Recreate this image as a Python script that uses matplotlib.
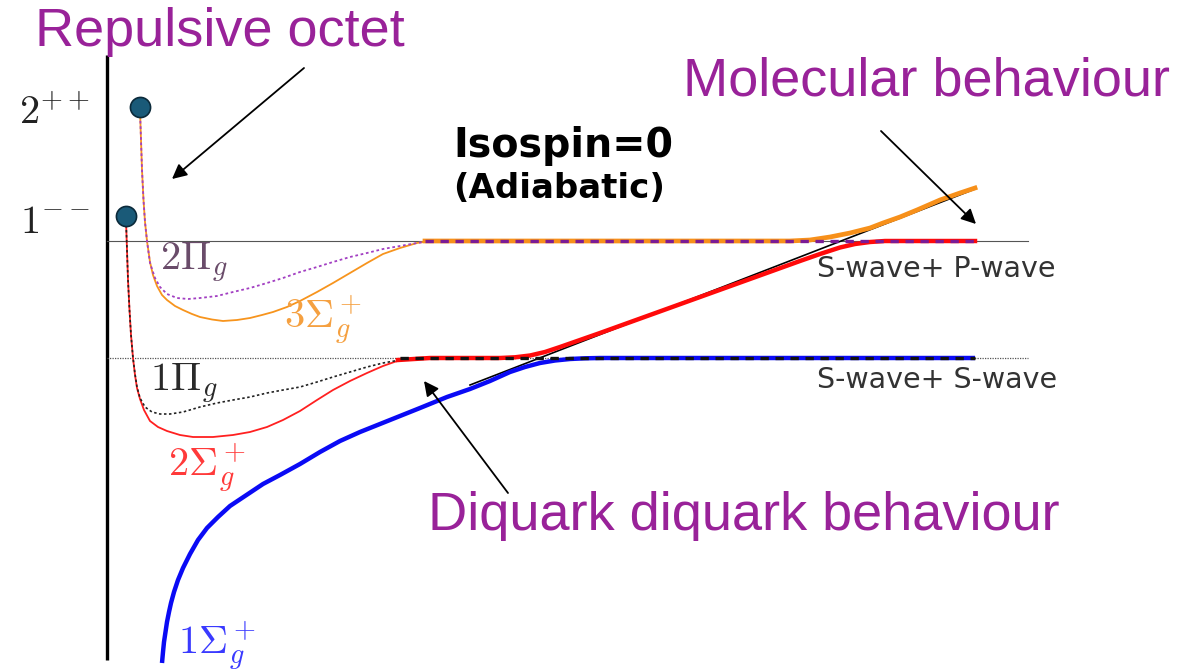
import matplotlib.pyplot as plt

plt.rcParams['mathtext.fontset'] = 'cm'

# schematic coordinates: r to the right, energy downwards (screen-like units)
R_MAX = 1191
E_MAX = 671

# thresholds
thr_upper = 241   # S-wave + P-wave
thr_lower = 358   # S-wave + S-wave
thr_r = [107, 1028]

# quark-model states at short distance
state_r = [140, 126]
state_e = [107, 216]
state_names = [r'$2^{++}$', r'$1^{--}$']

# 2Pi_g (dotted, short distance part)
pi2_r = [140, 141, 142, 143.5, 145, 147, 150, 155, 160, 167, 177, 188, 200, 217, 233, 250, 267, 283,
         300, 317, 333, 350, 367, 383, 400, 417, 430]
pi2_e = [110, 140, 170, 200, 222, 241, 263, 278, 287, 294, 298, 299, 298, 296, 292, 288, 283, 278,
         272, 267, 262, 257, 253, 249, 246, 243, 241]

# 3Sigma_g+ (short distance part)
sig3_r = [140, 141, 142, 143.5, 145, 147, 150, 153, 157, 162, 167, 175, 183, 192, 200, 212, 223, 237,
          250, 262, 273, 287, 300, 317, 333, 350, 367, 383, 400, 417, 430]
sig3_e = [110, 140, 170, 200, 222, 241, 262, 275, 286, 295, 300, 306, 310, 314, 317, 319.5, 321, 320,
          318, 315, 312, 307, 301, 292, 283, 273, 263, 254, 248, 243, 241]

# 3Sigma_g+ (long distance part)
sig3_far_r = [425, 500, 600, 700, 790, 810, 830, 850, 870, 883, 900, 917, 940, 960, 975]
sig3_far_e = [241, 241, 241, 241, 241, 240, 237, 233, 228, 223, 217, 210, 200, 193, 188]

# 1Pi_g (dotted)
pi1_r = [126, 127, 128, 129.5, 131, 133, 135, 137, 140, 145, 152, 160, 170, 183, 200, 217, 233, 250,
         267, 283, 300, 317, 333, 350, 367, 383, 400, 417]
pi1_e = [220, 250, 280, 310, 335, 358, 374, 387, 398, 407, 412, 414, 414, 412, 407, 403, 400, 397,
         393, 390, 387, 382, 377, 372, 367, 363, 360, 358]

# 2Sigma_g+ (short distance part)
sig2_r = [126, 127, 128, 129.5, 131, 133, 135, 137, 140, 144, 150, 158, 167, 180, 193, 213, 233, 250,
          267, 283, 300, 317, 333, 350, 367, 383, 400]
sig2_e = [220, 250, 280, 310, 335, 358, 375, 388, 399, 410, 421, 427, 431, 435, 437, 437, 435, 432,
          427, 420, 411, 400, 390, 381, 373, 366, 360]

# 2Sigma_g+ (long distance part)
sig2_far_r = [398, 430, 470, 500, 515, 530, 545, 560, 580, 600, 650, 700, 750, 800, 820, 840, 855,
              870, 885, 900, 930, 975]
sig2_far_e = [360, 358, 358, 358, 357.3, 355.5, 352, 347, 340, 333, 315, 297, 279, 261, 254, 247.5, 244,
              242, 241, 241, 241, 241]

# 1Sigma_g+
sig1_r = [162, 163, 164, 165.5, 167, 169, 171, 174, 178, 183, 190, 198, 207, 218, 230, 245, 263, 280,
          300, 320, 340, 360, 380, 400, 420, 447, 470, 490, 510, 525, 540, 555, 570, 585, 600, 650,
          750, 850, 975]
sig1_e = [663, 652, 642, 632, 622, 612, 603, 592, 580, 568, 554, 540, 528, 517, 506, 496, 484, 475,
          464, 452, 441, 432, 424, 416, 408, 397, 389, 381, 372, 367, 363, 360.5, 359, 358.3, 358, 358,
          358, 358, 358]

# diabatic diquark-diquark line
dq_r = [470, 975]
dq_e = [385, 189]

# long distance Pi_g plateaus
pi2_far_r = [425, 975]
pi1_far_r = [400, 975]

fig = plt.figure(figsize=(11.91, 6.71), dpi=100)
ax = fig.add_axes([0, 0, 1, 1])
ax.set_xlim(0, R_MAX)
ax.set_ylim(E_MAX, 0)
ax.axis('off')

# energy axis
ax.plot([107, 107], [55, 660], color='black', lw=2.4, solid_capstyle='butt')

# thresholds
ax.plot(thr_r, [thr_upper, thr_upper], color='#555555', lw=0.8)
ax.plot(thr_r, [thr_lower, thr_lower], color='#555555', lw=0.9, ls=(0, (1, 1)))

# short distance curves
ax.plot(sig3_r, sig3_e, color='#f7941d', lw=1.3, zorder=3)
ax.plot(pi2_r, pi2_e, color='#a23fc2', lw=1.3, ls=(0, (1.5, 1.5)), zorder=4)
ax.plot(sig2_r, sig2_e, color='#ff2020', lw=1.3, zorder=3)
ax.plot(pi1_r, pi1_e, color='#222222', lw=1.2, ls=(0, (1.5, 1.5)), zorder=4)

# long distance curves
ax.plot(dq_r, dq_e, color='black', lw=1.2, zorder=3)
ax.plot(sig1_r, sig1_e, color='#0a0af5', lw=3.2, zorder=4, solid_capstyle='butt')
ax.plot(sig2_far_r, sig2_far_e, color='#ff0a0a', lw=3.2, zorder=4)
ax.plot(sig3_far_r, sig3_far_e, color='#f7901a', lw=3.4, zorder=5)
ax.plot(pi2_far_r, [thr_upper, thr_upper], color='#7a1b96', lw=2.4, ls=(0, (2.5, 2)), zorder=6)
ax.plot(pi1_far_r, [thr_lower, thr_lower], color='#111111', lw=2.4, ls=(0, (2.5, 2)), zorder=6)

# states
ax.scatter(state_r, state_e, s=210, color='#1a5a78', edgecolor='#0b2a3a', linewidth=1.2, zorder=7)
for name, e in zip(state_names, state_e):
    ax.text(90, e + 17, name, fontsize=29, color='#222222', ha='right', va='baseline')

# curve labels
ax.text(160, 270, r'$2\Pi_g$', fontsize=29, color='#6a4c6a', va='baseline')
ax.text(284, 328, r'$3\Sigma_g^+$', fontsize=29, color='#f5a040', va='baseline')
ax.text(150, 391, r'$1\Pi_g$', fontsize=29, color='#2a2a2a', va='baseline')
ax.text(168, 476, r'$2\Sigma_g^+$', fontsize=29, color='#ff3a3a', va='baseline')
ax.text(178, 654, r'$1\Sigma_g^+$', fontsize=29, color='#3a3aff', va='baseline')

ax.text(817, 277, 'S-wave+ P-wave', fontsize=20.5, color='#333333', va='baseline')
ax.text(817, 388, 'S-wave+ S-wave', fontsize=20.5, color='#333333', va='baseline')

ax.text(453, 157, 'Isospin=0', fontsize=28.5, fontweight='bold', color='black', va='baseline')
ax.text(453, 198, '(Adiabatic)', fontsize=24.5, fontweight='bold', color='black', va='baseline')

purple = '#992299'
ax.text(35, 46, 'Repulsive octet', fontsize=39, family='Liberation Sans', color=purple, va='baseline')
ax.text(683, 96, 'Molecular behaviour', fontsize=39, family='Liberation Sans', color=purple, va='baseline')
ax.text(428, 530, 'Diquark diquark behaviour', fontsize=39, family='Liberation Sans', color=purple, va='baseline')

arrow = dict(arrowstyle='-|>', color='black', lw=1.3, mutation_scale=22, shrinkA=0, shrinkB=0)
ax.annotate('', xy=(172, 179), xytext=(304, 68), arrowprops=arrow, zorder=8)
ax.annotate('', xy=(976, 224), xytext=(881, 131), arrowprops=arrow, zorder=8)
ax.annotate('', xy=(424, 381), xytext=(508, 493), arrowprops=arrow, zorder=8)

fig.savefig('out.png', dpi=100)
